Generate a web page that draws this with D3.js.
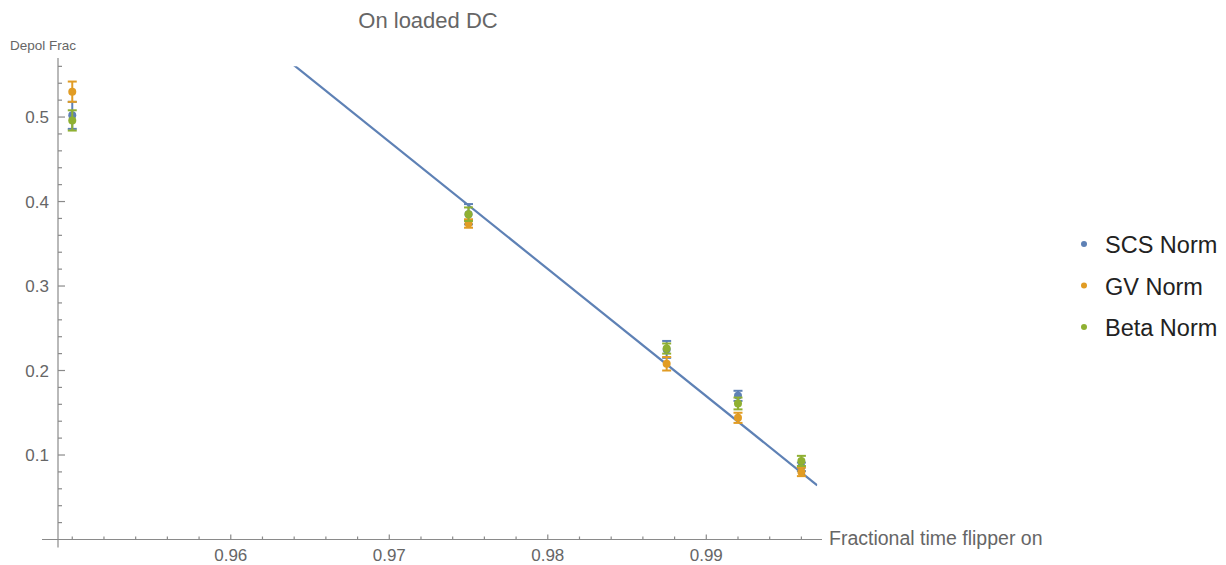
<!DOCTYPE html>
<html>
<head>
<meta charset="utf-8">
<script src="https://cdn.jsdelivr.net/npm/d3@7"></script>
<style>
  body { margin: 0; background: #fff; }
  svg { display: block; }
</style>
</head>
<body>
<svg id="chart"></svg>
<script>
// data
const xValues = [0.95, 0.975, 0.9875, 0.992, 0.996];
const scsValues = [0.502, 0.385, 0.225, 0.170, 0.086];
const scsErrors = [0.016, 0.012, 0.010, 0.006, 0.005];
const gvValues = [0.530, 0.374, 0.208, 0.144, 0.080];
const gvErrors = [0.012, 0.005, 0.008, 0.006, 0.005];
const betaValues = [0.496, 0.385, 0.226, 0.161, 0.093];
const betaErrors = [0.012, 0.008, 0.006, 0.007, 0.006];
const seriesNames = ["SCS Norm", "GV Norm", "Beta Norm"];
const seriesColors = ["#5e81b5", "#e19c24", "#8fb032"];
const xTickValues = [0.96, 0.97, 0.98, 0.99];
const yTickValues = [0.1, 0.2, 0.3, 0.4, 0.5];
// fitted line y = a + b*x
const fitIntercept = 15.079;
const fitSlope = -15.06;
const fitRange = [0.96, 0.997];

const width = 1226, height = 565;
const svg = d3.select("#chart").attr("width", width).attr("height", height);
const font = "'Liberation Sans', Arial, sans-serif";

const x = d3.scaleLinear().domain([0.9491, 0.9973]).range([58, 822]);
const y = d3.scaleLinear().domain([0, 0.57]).range([539.5, 57.9]);

const axisColor = "#8a8a8a";
const labelColor = "#666";

// clip for the fit line (plot range)
svg.append("clipPath").attr("id", "plotClip")
  .append("rect")
  .attr("x", x(0.9491)).attr("y", y(0.56))
  .attr("width", x(0.997) - x(0.9491)).attr("height", y(0) - y(0.56));

// axes
const axes = svg.append("g").attr("stroke", axisColor).attr("stroke-width", 1.2);
axes.append("line")
  .attr("x1", x(0.9491) - 16).attr("x2", x(0.9973))
  .attr("y1", y(0)).attr("y2", y(0));
axes.append("line")
  .attr("x1", x(0.9491)).attr("x2", x(0.9491))
  .attr("y1", y(0) + 8).attr("y2", y(0.57));

// x ticks
const xMinor = d3.range(0.95, 0.9965, 0.002).filter(v => !xTickValues.some(t => Math.abs(t - v) < 1e-6));
axes.selectAll(".xminor").data(xMinor).enter().append("line")
  .attr("x1", d => x(d)).attr("x2", d => x(d))
  .attr("y1", y(0)).attr("y2", y(0) - 3);
axes.selectAll(".xmajor").data(xTickValues).enter().append("line")
  .attr("x1", d => x(d)).attr("x2", d => x(d))
  .attr("y1", y(0)).attr("y2", y(0) - 5);

// y ticks
const yMinor = d3.range(0.02, 0.565, 0.02).filter(v => !yTickValues.some(t => Math.abs(t - v) < 1e-6));
axes.selectAll(".yminor").data(yMinor).enter().append("line")
  .attr("x1", x(0.9491)).attr("x2", x(0.9491) + 4)
  .attr("y1", d => y(d)).attr("y2", d => y(d));
axes.selectAll(".ymajor").data(yTickValues).enter().append("line")
  .attr("x1", x(0.9491)).attr("x2", x(0.9491) + 7)
  .attr("y1", d => y(d)).attr("y2", d => y(d));

svg.append("g").selectAll("text").data(xTickValues).enter().append("text")
  .attr("x", d => x(d)).attr("y", y(0) + 21.5)
  .attr("text-anchor", "middle")
  .attr("font-family", font).attr("font-size", 17).attr("fill", labelColor)
  .text(d => d3.format(".2f")(d));

svg.append("g").selectAll("text").data(yTickValues).enter().append("text")
  .attr("x", x(0.9491) - 9).attr("y", d => y(d) + 6)
  .attr("text-anchor", "end")
  .attr("font-family", font).attr("font-size", 17).attr("fill", labelColor)
  .text(d => d3.format(".1f")(d));

// axis labels and title
svg.append("text").attr("x", 10).attr("y", 50)
  .attr("font-family", font).attr("font-size", 13.5).attr("fill", labelColor)
  .text("Depol Frac");
svg.append("text").attr("x", 829).attr("y", y(0) + 5)
  .attr("font-family", font).attr("font-size", 19.5).attr("fill", labelColor)
  .text("Fractional time flipper on");
svg.append("text").attr("x", 428).attr("y", 28)
  .attr("text-anchor", "middle")
  .attr("font-family", font).attr("font-size", 22).attr("fill", labelColor)
  .text("On loaded DC");

// fit line
const fitLine = d3.line().x(d => x(d)).y(d => y(fitIntercept + fitSlope * d));
svg.append("path")
  .datum(fitRange)
  .attr("clip-path", "url(#plotClip)")
  .attr("d", fitLine)
  .attr("fill", "none")
  .attr("stroke", seriesColors[0])
  .attr("stroke-width", 2.2);

// points with error bars
const series = [
  { values: scsValues, errors: scsErrors },
  { values: gvValues, errors: gvErrors },
  { values: betaValues, errors: betaErrors }
];

series.forEach((s, i) => {
  const color = seriesColors[i];
  const pts = xValues.map((xv, j) => ({ x: xv, y: s.values[j], e: s.errors[j] }));
  const g = svg.append("g").attr("stroke", color).attr("fill", color);
  g.selectAll(".bar").data(pts).enter().append("line")
    .attr("x1", d => x(d.x)).attr("x2", d => x(d.x))
    .attr("y1", d => y(d.y - d.e)).attr("y2", d => y(d.y + d.e))
    .attr("stroke-width", 2);
  g.selectAll(".capTop").data(pts).enter().append("line")
    .attr("x1", d => x(d.x) - 4.5).attr("x2", d => x(d.x) + 4.5)
    .attr("y1", d => y(d.y + d.e)).attr("y2", d => y(d.y + d.e))
    .attr("stroke-width", 2);
  g.selectAll(".capBottom").data(pts).enter().append("line")
    .attr("x1", d => x(d.x) - 4.5).attr("x2", d => x(d.x) + 4.5)
    .attr("y1", d => y(d.y - d.e)).attr("y2", d => y(d.y - d.e))
    .attr("stroke-width", 2);
  g.selectAll("circle").data(pts).enter().append("circle")
    .attr("cx", d => x(d.x)).attr("cy", d => y(d.y))
    .attr("r", 4).attr("stroke", "none");
});

// legend
const legend = svg.append("g");
seriesNames.forEach((name, i) => {
  const ly = 244 + i * 41.5;
  legend.append("circle").attr("cx", 1084).attr("cy", ly).attr("r", 3)
    .attr("fill", seriesColors[i]);
  legend.append("text").attr("x", 1105).attr("y", ly + 9)
    .attr("font-family", font).attr("font-size", 23.5).attr("fill", "#222")
    .text(name);
});
</script>
</body>
</html>
